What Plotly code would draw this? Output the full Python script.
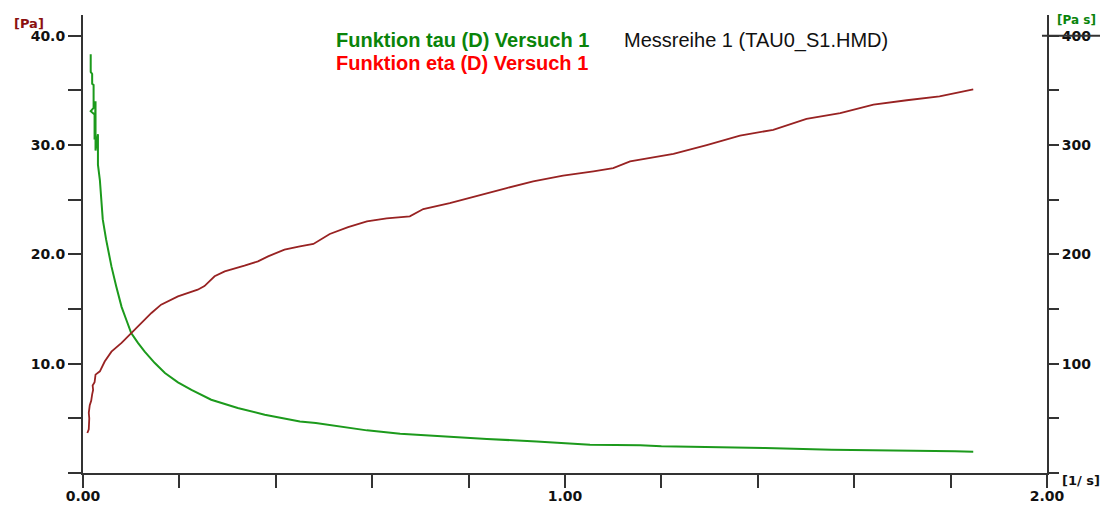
import plotly.graph_objects as go

# Shear rate D [1/s]
tau_x = [0.016, 0.016, 0.019, 0.019, 0.022, 0.022, 0.016, 0.024, 0.024, 0.026, 0.026, 0.031, 0.031,
         0.035, 0.038, 0.041, 0.048, 0.059, 0.069, 0.080, 0.090, 0.100, 0.114, 0.128, 0.149, 0.170,
         0.197, 0.225, 0.266, 0.321, 0.377, 0.432, 0.450, 0.483, 0.519, 0.589, 0.658, 0.761, 0.838,
         0.941, 0.990, 1.052, 1.156, 1.200, 1.415, 1.553, 1.809, 1.847]
# tau [Pa]
tau_y = [38.3, 36.7, 36.5, 35.6, 35.5, 33.4, 33.1, 32.8, 30.5, 34.0, 29.5, 31.0, 28.2,
         26.8, 25.0, 23.2, 21.35, 18.9, 17.07, 15.2, 14.0, 12.8, 11.9, 11.1, 10.06, 9.15,
         8.29, 7.6, 6.7, 5.95, 5.33, 4.88, 4.72, 4.57, 4.33, 3.9, 3.6, 3.29, 3.11,
         2.89, 2.74, 2.59, 2.55, 2.44, 2.29, 2.13, 1.98, 1.95]

eta_x = [0.009, 0.012, 0.013, 0.012, 0.014, 0.017, 0.019, 0.021, 0.020, 0.024, 0.026, 0.035,
         0.045, 0.059, 0.080, 0.100, 0.121, 0.142, 0.162, 0.197, 0.238, 0.252, 0.273, 0.294,
         0.335, 0.363, 0.384, 0.418, 0.450, 0.478, 0.512, 0.550, 0.589, 0.630, 0.678, 0.706,
         0.761, 0.824, 0.879, 0.934, 0.996, 1.059, 1.100, 1.135, 1.156, 1.194, 1.225, 1.294,
         1.363, 1.432, 1.501, 1.571, 1.640, 1.709, 1.777, 1.847]
# eta [Pa s]
eta_y = [36.6, 40.0, 50.0, 55.0, 62.0, 66.0, 72.0, 76.0, 80.0, 83.0, 90.0, 93.0,
         102.0, 111.0, 119.0, 128.0, 137.0, 146.4, 154.0, 161.6, 167.7, 171.0, 180.0, 184.5,
         189.7, 193.6, 198.2, 204.3, 207.3, 209.5, 218.7, 225.0, 230.2, 233.0, 234.8, 241.5,
         247.0, 254.6, 260.7, 266.8, 272.0, 276.0, 279.0, 285.0, 286.6, 289.7, 292.0, 300.0,
         308.6, 314.0, 323.9, 329.3, 337.0, 341.0, 344.5, 351.0]

x_tickvals = [0.0, 0.2, 0.4, 0.6, 0.8, 1.0, 1.2, 1.4, 1.6, 1.8, 2.0]
x_ticktext = ["0.00", "", "", "", "", "1.00", "", "", "", "", "2.00"]
yl_tickvals = [0, 5, 10, 15, 20, 25, 30, 35, 40]
yl_ticktext = ["", "", "10.0", "", "20.0", "", "30.0", "", "40.0"]
yr_tickvals = [0, 50, 100, 150, 200, 250, 300, 350, 400]
yr_ticktext = ["", "", "100", "", "200", "", "300", "", "400"]

AX = "#333333"
tickfont = dict(family="DejaVu Sans", size=14, color="#111111", weight="bold")

fig = go.Figure()
fig.add_trace(go.Scatter(x=tau_x, y=tau_y, mode="lines", name="Funktion tau (D) Versuch 1",
                         line=dict(color="#1c9a1c", width=2), yaxis="y"))
fig.add_trace(go.Scatter(x=eta_x, y=eta_y, mode="lines", name="Funktion eta (D) Versuch 1",
                         line=dict(color="#982222", width=1.8), yaxis="y2"))

fig.update_layout(
    width=1100, height=506,
    margin=dict(l=75, r=61, t=7, b=41),
    paper_bgcolor="white", plot_bgcolor="white",
    showlegend=False,
    xaxis=dict(range=[0, 2], tickvals=x_tickvals, ticktext=x_ticktext, ticks="outside",
               ticklen=13, tickwidth=2, tickcolor=AX, showline=True, linecolor=AX, linewidth=2,
               showgrid=False, zeroline=False, tickfont=tickfont, automargin=False,
               ticklabelstandoff=-4),
    yaxis=dict(range=[0, 41.9], tickvals=yl_tickvals, ticktext=yl_ticktext, ticks="outside",
               ticklen=13, tickwidth=2, tickcolor=AX, showline=True, linecolor=AX, linewidth=2,
               showgrid=False, zeroline=False, tickfont=tickfont, automargin=False),
    yaxis2=dict(range=[0, 419], tickvals=yr_tickvals, ticktext=yr_ticktext, ticks="outside",
                ticklen=10, tickwidth=2, tickcolor=AX, showline=True, linecolor=AX, linewidth=2,
                showgrid=False, zeroline=False, tickfont=tickfont, overlaying="y", side="right",
                anchor="x", position=1, automargin=False),
)

fig.add_shape(type="line", xref="paper", yref="y2", x0=0.9948, x1=1.062, y0=400, y1=400,
              line=dict(color=AX, width=2))

ann = [
    dict(text="Funktion tau (D) Versuch 1", x=0.2604, y=0.9454, xanchor="left", yanchor="middle",
         font=dict(family="Liberation Sans", size=20, color="#0a840a", weight="bold")),
    dict(text="Funktion eta (D) Versuch 1", x=0.2604, y=0.8952, xanchor="left", yanchor="middle",
         font=dict(family="Liberation Sans", size=20, color="#ff0000", weight="bold")),
    dict(text="Messreihe 1 (TAU0_S1.HMD)", x=0.5591, y=0.9454, xanchor="left", yanchor="middle",
         font=dict(family="Liberation Sans", size=20, color="#111111")),
    dict(text="[Pa]", x=-0.056, y=0.9825, xanchor="center", yanchor="middle",
         font=dict(family="DejaVu Sans", size=13, color="#8b1010", weight="bold")),
    dict(text="[Pa s]", x=1.0311, y=0.989, xanchor="center", yanchor="middle",
         font=dict(family="DejaVu Sans", size=12, color="#0a840a", weight="bold")),
    dict(text="[1/ s]", x=1.0353, y=-0.0153, xanchor="center", yanchor="middle",
         font=dict(family="DejaVu Sans", size=13, color="#111111", weight="bold")),
]
for a in ann:
    fig.add_annotation(xref="paper", yref="paper", showarrow=False, **a)

fig.write_html("out.html")
